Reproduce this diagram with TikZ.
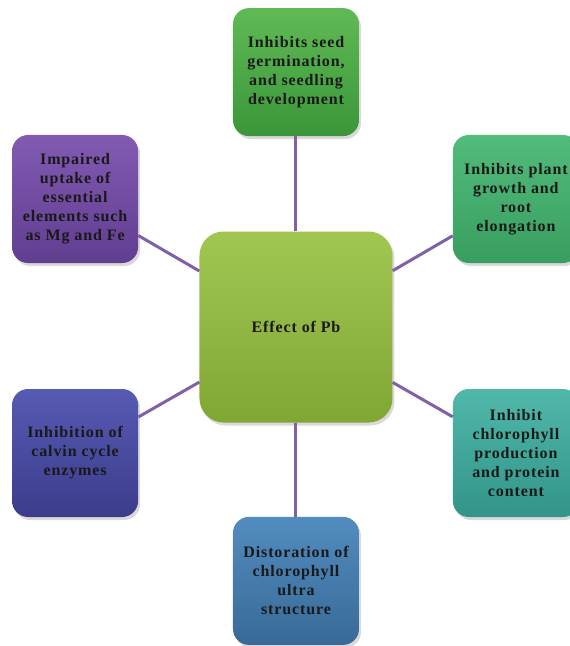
\documentclass[tikz,border=0pt]{standalone}
\usepackage{fontspec}
\setmainfont{Liberation Serif}
\newfontfamily\boxfont{Liberation Serif}[LetterSpace=5.5]
\usetikzlibrary{positioning,shadows}

\definecolor{linkpurple}{RGB}{128,96,168}
\definecolor{pbtop}{RGB}{162,198,82}
\definecolor{pbbot}{RGB}{128,166,52}

\begin{document}
\begin{tikzpicture}[
  node distance=60pt,
  effect/.style={rectangle, rounded corners=16pt, minimum width=126pt, minimum height=128pt, align=center, inner sep=1pt, text=black!90,
    font=\boxfont\bfseries\fontsize{16}{19}\selectfont, drop shadow={opacity=0.3, shadow xshift=2pt, shadow yshift=-3pt}},
  core/.style={effect, rounded corners=24pt, minimum width=193pt, minimum height=191pt, top color=pbtop, bottom color=pbbot},
  link/.style={draw=linkpurple, line width=3pt}
]
\useasboundingbox (-296pt,-319pt) rectangle (274pt,327pt);

\node[core] (pb) {Effect of Pb};
\node[effect, top color={rgb,255:red,96;green,186;blue,84}, bottom color={rgb,255:red,58;green,150;blue,58}, above=95pt of pb] (seed) {Inhibits seed\\germination,\\and seedling\\development};
\node[effect, top color={rgb,255:red,82;green,188;blue,124}, bottom color={rgb,255:red,56;green,158;blue,96}, right=60pt of pb, yshift=128pt] (growth) {Inhibits plant\\growth and\\root\\elongation};
\node[effect, top color={rgb,255:red,80;green,184;blue,170}, bottom color={rgb,255:red,50;green,148;blue,138}, right=60pt of pb, yshift=-126pt] (chloro) {Inhibit\\chlorophyll\\production\\and protein\\content};
\node[effect, top color={rgb,255:red,82;green,140;blue,192}, bottom color={rgb,255:red,56;green,106;blue,150}, below=94pt of pb] (ultra) {Distoration of\\chlorophyll\\ultra\\structure};
\node[effect, top color={rgb,255:red,86;green,90;blue,178}, bottom color={rgb,255:red,60;green,60;blue,140}, left=61pt of pb, yshift=-126pt] (calvin) {Inhibition of\\calvin cycle\\enzymes};
\node[effect, top color={rgb,255:red,130;green,90;blue,178}, bottom color={rgb,255:red,96;green,62;blue,144}, left=61pt of pb, yshift=128pt] (uptake) {Impaired\\uptake of\\essential\\elements such\\as Mg and Fe};

\draw[link] (pb) -- (seed);
\draw[link] (pb) -- (growth);
\draw[link] (pb) -- (chloro);
\draw[link] (pb) -- (ultra);
\draw[link] (pb) -- (calvin);
\draw[link] (pb) -- (uptake);
\end{tikzpicture}
\end{document}
